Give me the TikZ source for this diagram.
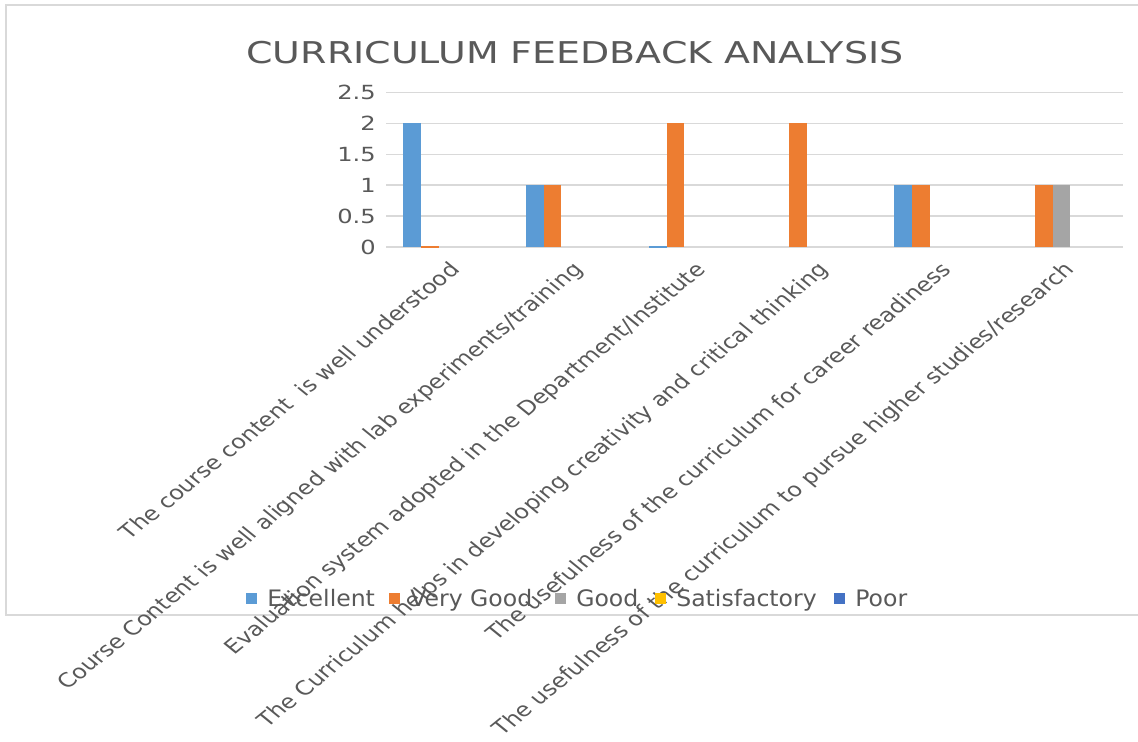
\documentclass[tikz,border=0pt]{standalone}
\usepackage{fontspec}
\setmainfont{DejaVu Sans}
\definecolor{txt}{HTML}{595959}
\definecolor{gridc}{HTML}{D9D9D9}
\definecolor{cEx}{HTML}{5B9BD5}
\definecolor{cVG}{HTML}{ED7D31}
\definecolor{cGd}{HTML}{A5A5A5}
\definecolor{cSat}{HTML}{FFC000}
\definecolor{cPoor}{HTML}{4472C4}
\begin{document}
\begin{tikzpicture}[x=0.75pt,y=-0.75pt,
  ticklab/.style={text=txt, font=\fontsize{14.6}{17}\selectfont, xscale=1.24, anchor=east, inner sep=0pt},
  catlab/.style={text=txt, font=\fontsize{14.7}{18}\selectfont, inner sep=0pt, anchor=base east, cm={0.870,0.707,-0.870,0.707,(0,0)}},
  leglab/.style={text=txt, font=\fontsize{17}{20}\selectfont, xscale=1.04, anchor=base west, inner sep=0pt},
  titlelab/.style={text=txt, font=\fontsize{22.5}{27}\selectfont, xscale=1.265, anchor=base, inner sep=0pt},
  gridline/.style={draw=gridc, line width=1.1pt}]
\useasboundingbox (0,0) rectangle (1138,742);
\fill[white] (0,0) rectangle (1138,742);
% chart border
\draw[gridc, line width=1pt] (1142,5) -- (6,5) -- (6,615) -- (1142,615);
% title
\node[titlelab] (title) at (575,64) {CURRICULUM FEEDBACK ANALYSIS};
% gridlines and tick labels
\foreach \v/\lab [count=\k] in {0/0, 0.5/0.5, 1/1, 1.5/1.5, 2/2, 2.5/2.5} {
  \draw[gridline] (386,{247-\v*61.8}) -- (1123,{247-\v*61.8});
  \node[ticklab] (tick\k) at (376,{247-\v*61.8}) {\lab};
}
% bars
\foreach \c/\s/\v/\col in {1/0/2/cEx, 2/0/1/cEx, 2/1/1/cVG, 3/1/2/cVG, 4/1/2/cVG, 5/0/1/cEx, 5/1/1/cVG, 6/1/1/cVG, 6/2/1/cGd} {
  \fill[\col] ({386+122.83*(\c-0.5)-44.25+\s*17.7},247) rectangle ++(17.7,{-\v*61.8});
}
% zero-value bars
\foreach \c/\s/\col in {1/1/cVG, 3/0/cEx} {
  \fill[\col] ({386+122.83*(\c-0.5)-44.25+\s*17.7},248) rectangle ++(17.7,-1.8);
}
% category labels
\node[catlab] (cat1) at ({386+122.83*0.5+14},271) {The course content\ \ is well understood};
\node[catlab] (cat2) at ({386+122.83*1.5+14},271) {Course Content is well aligned with lab experiments/training};
\node[catlab] (cat3) at ({386+122.83*2.5+14},271) {Evaluation system adopted in the Department/Institute};
\node[catlab] (cat4) at ({386+122.83*3.5+14},271) {The Curriculum helps in developing creativity and critical thinking};
\node[catlab] (cat5) at ({386+122.83*4.5+14},271) {The usefulness of the curriculum for career readiness};
\node[catlab] (cat6) at ({386+122.83*5.5+14},271) {The usefulness of the curriculum to pursue higher studies/research};
% legend
\foreach \tx/\col/\name [count=\k] in {267/cEx/Excellent, 410/cVG/Very Good, 576/cGd/Good, 676/cSat/Satisfactory, 855/cPoor/Poor} {
  \fill[\col] ({\tx-21},593) rectangle ++(11,11);
  \node[leglab] (leg\k) at (\tx,606) {\name};
}
\end{tikzpicture}
\end{document}
